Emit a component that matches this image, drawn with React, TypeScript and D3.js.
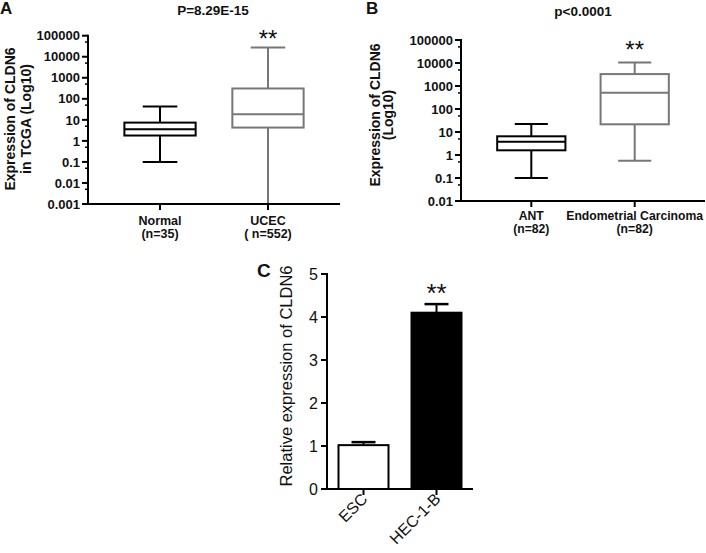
import React from "react";
import * as d3 from "d3";

// ---------- Data ----------
const catsA = ["Normal", "UCEC"];
const catsASub = ["(n=35)", "( n=552)"];
// [lowWhisker, q1, median, q3, highWhisker]
const boxStatsA = [
  [0.1, 1.8, 3.6, 7.4, 43],
  [0.001, 4.3, 18.6, 310, 27800],
];
const ticksA = [0.001, 0.01, 0.1, 1, 10, 100, 1000, 10000, 100000];
const tickLabelsA = ["0.001", "0.01", "0.1", "1", "10", "100", "1000", "10000", "100000"];

const catsB = ["ANT", "Endometrial Carcinoma"];
const catsBSub = ["(n=82)", "(n=82)"];
const boxStatsB = [
  [0.1, 1.6, 3.8, 6.5, 22],
  [0.56, 21.6, 510, 3300, 10500],
];
const ticksB = [0.01, 0.1, 1, 10, 100, 1000, 10000, 100000];
const tickLabelsB = ["0.01", "0.1", "1", "10", "100", "1000", "10000", "100000"];

const catsC = ["ESC", "HEC-1-B"];
const barValuesC = [1.02, 4.1];
const barErrC = [0.07, 0.2];
const ticksC = [0, 1, 2, 3, 4, 5];

const boxColors = ["#000000", "#777777"];
const barFills = ["#ffffff", "#000000"];

const FONT = "'Liberation Sans', Arial, Helvetica, sans-serif";

type LogPanelProps = {
  cats: string[];
  subs: string[];
  stats: number[][];
  ticks: number[];
  tickLabels: string[];
  domain: [number, number];
  xRange: [number, number];
  yRange: [number, number];
  padding: number;
  labelRight: number;
  catBase1: number;
  catBase2: number;
  catFont: number;
  starsBase: number;
};

function LogPanel(p: LogPanelProps) {
  const y = d3.scaleLog().domain(p.domain).range(p.yRange);
  const x = d3.scalePoint<string>().domain(p.cats).range(p.xRange).padding(p.padding);
  const step = x.step();
  const boxW = step * 0.66;
  const capW = step * 0.32;
  const [lo, hi] = p.domain;
  const minor: number[] = [];
  for (let k = Math.round(Math.log10(lo)); k < Math.round(Math.log10(hi)); k++) {
    minor.push(5 * Math.pow(10, k));
  }
  const x0 = p.xRange[0];
  const x1 = p.xRange[1];
  const yb = y(lo);
  const yt = y(hi);
  return (
    <g>
      {p.cats.map((c, i) => {
        const s = p.stats[i];
        const cx = x(c) as number;
        const col = boxColors[i];
        return (
          <g key={c} stroke={col} strokeWidth={2} fill="none">
            <line x1={cx} x2={cx} y1={y(s[0])} y2={y(s[1])} />
            <line x1={cx} x2={cx} y1={y(s[3])} y2={y(s[4])} />
            <line x1={cx - capW / 2} x2={cx + capW / 2} y1={y(s[0])} y2={y(s[0])} />
            <line x1={cx - capW / 2} x2={cx + capW / 2} y1={y(s[4])} y2={y(s[4])} />
            <rect x={cx - boxW / 2} y={y(s[3])} width={boxW} height={y(s[1]) - y(s[3])} fill="#fff" />
            <line x1={cx - boxW / 2} x2={cx + boxW / 2} y1={y(s[2])} y2={y(s[2])} />
          </g>
        );
      })}
      {/* axes */}
      <g stroke="#000" strokeWidth={2}>
        <line x1={x0} x2={x0} y1={yt - 1} y2={yb + 1} />
        <line x1={x0 - 1} x2={x1} y1={yb} y2={yb} />
        {p.ticks.map((t) => (
          <line key={t} x1={x0 - 6} x2={x0} y1={y(t)} y2={y(t)} />
        ))}
        {minor.map((t) => (
          <line key={"m" + t} x1={x0 - 3} x2={x0} y1={y(t)} y2={y(t)} strokeWidth={1.5} />
        ))}
        {p.cats.map((c) => (
          <line key={c} x1={x(c) as number} x2={x(c) as number} y1={yb} y2={yb + 6} />
        ))}
      </g>
      <g fontFamily={FONT} fontWeight="bold" fontSize={13} fill="#111">
        {p.ticks.map((t, i) => (
          <text key={t} x={p.labelRight} y={y(t)} dy="0.36em" textAnchor="end">
            {p.tickLabels[i]}
          </text>
        ))}
      </g>
      <g fontFamily={FONT} fontWeight="bold" fontSize={p.catFont} fill="#111">
        {p.cats.map((c, i) => (
          <g key={c}>
            <text x={x(c) as number} y={p.catBase1} textAnchor="middle">{c}</text>
            <text x={x(c) as number} y={p.catBase2} textAnchor="middle">{p.subs[i]}</text>
          </g>
        ))}
      </g>
      <text
        x={x(p.cats[1]) as number}
        y={p.starsBase}
        textAnchor="middle"
        fontFamily={FONT}
        fontSize={24}
        fill="#111"
      >
        **
      </text>
    </g>
  );
}

function BarPanel() {
  const y = d3.scaleLinear().domain([0, 5]).range([489, 274]);
  const x = d3.scalePoint<string>().domain(catsC).range([327, 473]).padding(0.5);
  const step = x.step();
  const barW = step * 0.685;
  const capW = 24;
  const x0 = 327;
  const x1 = 473;
  return (
    <g>
      {catsC.map((c, i) => {
        const cx = x(c) as number;
        const v = barValuesC[i];
        const e = barErrC[i];
        return (
          <g key={c}>
            <line x1={cx} x2={cx} y1={y(v)} y2={y(v + e)} stroke="#000" strokeWidth={2} />
            <line x1={cx - capW / 2} x2={cx + capW / 2} y1={y(v + e)} y2={y(v + e)} stroke="#000" strokeWidth={2.5} />
            <rect
              x={cx - barW / 2}
              y={y(v)}
              width={barW}
              height={y(0) - y(v)}
              fill={barFills[i]}
              stroke="#000"
              strokeWidth={2}
            />
          </g>
        );
      })}
      <g stroke="#000" strokeWidth={2}>
        <line x1={x0} x2={x0} y1={y(5) - 1} y2={y(0) + 1} />
        <line x1={x0 - 1} x2={x1} y1={y(0)} y2={y(0)} />
        {ticksC.map((t) => (
          <line key={t} x1={x0 - 6} x2={x0} y1={y(t)} y2={y(t)} />
        ))}
        {catsC.map((c) => (
          <line key={c} x1={x(c) as number} x2={x(c) as number} y1={y(0)} y2={y(0) + 6} />
        ))}
      </g>
      <g fontFamily={FONT} fontSize={16} fill="#111">
        {ticksC.map((t) => (
          <text key={t} x={318} y={y(t)} dy="0.36em" textAnchor="end">
            {t}
          </text>
        ))}
        {catsC.map((c) => {
          const ax = (x(c) as number) + 5;
          const ay = 500;
          return (
            <text key={c} x={ax} y={ay} textAnchor="end" transform={`rotate(-45 ${ax} ${ay})`}>
              {c}
            </text>
          );
        })}
        <text x={292} y={376} textAnchor="middle" transform="rotate(-90 292 376)" fontSize={16.5}>
          Relative expression of CLDN6
        </text>
      </g>
      <text x={x(catsC[1]) as number} y={302} textAnchor="middle" fontFamily={FONT} fontSize={26} fill="#111">
        **
      </text>
    </g>
  );
}

export default function App() {
  return (
    <svg
      width={706}
      height={553}
      viewBox="0 0 706 553"
      style={{ position: "absolute", left: 0, top: 0, background: "#fff" }}
    >
      <rect width={706} height={553} fill="#fff" />
      {/* Panel A */}
      <text x={0} y={14} fontFamily={FONT} fontWeight="bold" fontSize={17} fill="#111">A</text>
      <text x={213} y={15} textAnchor="middle" fontFamily={FONT} fontWeight="bold" fontSize={13.5} fill="#111">
        P=8.29E-15
      </text>
      <g fontFamily={FONT} fontWeight="bold" fontSize={14} fill="#111">
        <text x={15} y={119} textAnchor="middle" transform="rotate(-90 15 119)">Expression of CLDN6</text>
        <text x={31} y={119} textAnchor="middle" transform="rotate(-90 31 119)">in TCGA (Log10)</text>
      </g>
      <LogPanel
        cats={catsA}
        subs={catsASub}
        stats={boxStatsA}
        ticks={ticksA}
        tickLabels={tickLabelsA}
        domain={[0.001, 100000]}
        xRange={[88, 340]}
        yRange={[204, 35.7]}
        padding={0.667}
        labelRight={80}
        catBase1={225}
        catBase2={237.5}
        catFont={12.5}
        starsBase={46.5}
      />
      {/* Panel B */}
      <text x={366} y={14} fontFamily={FONT} fontWeight="bold" fontSize={17} fill="#111">B</text>
      <text x={583} y={16} textAnchor="middle" fontFamily={FONT} fontWeight="bold" fontSize={13.5} fill="#111">
        p&lt;0.0001
      </text>
      <g fontFamily={FONT} fontWeight="bold" fontSize={14} fill="#111">
        <text x={380} y={115} textAnchor="middle" transform="rotate(-90 380 115)">Expression of CLDN6</text>
        <text x={393} y={115} textAnchor="middle" transform="rotate(-90 393 115)">(Log10)</text>
      </g>
      <LogPanel
        cats={catsB}
        subs={catsBSub}
        stats={boxStatsB}
        ticks={ticksB}
        tickLabels={tickLabelsB}
        domain={[0.01, 100000]}
        xRange={[461, 705]}
        yRange={[201, 40]}
        padding={0.68}
        labelRight={453}
        catBase1={220}
        catBase2={232.5}
        catFont={12.2}
        starsBase={58}
      />
      {/* Panel C */}
      <text x={257} y={277} fontFamily={FONT} fontWeight="bold" fontSize={19} fill="#111">C</text>
      <BarPanel />
    </svg>
  );
}
